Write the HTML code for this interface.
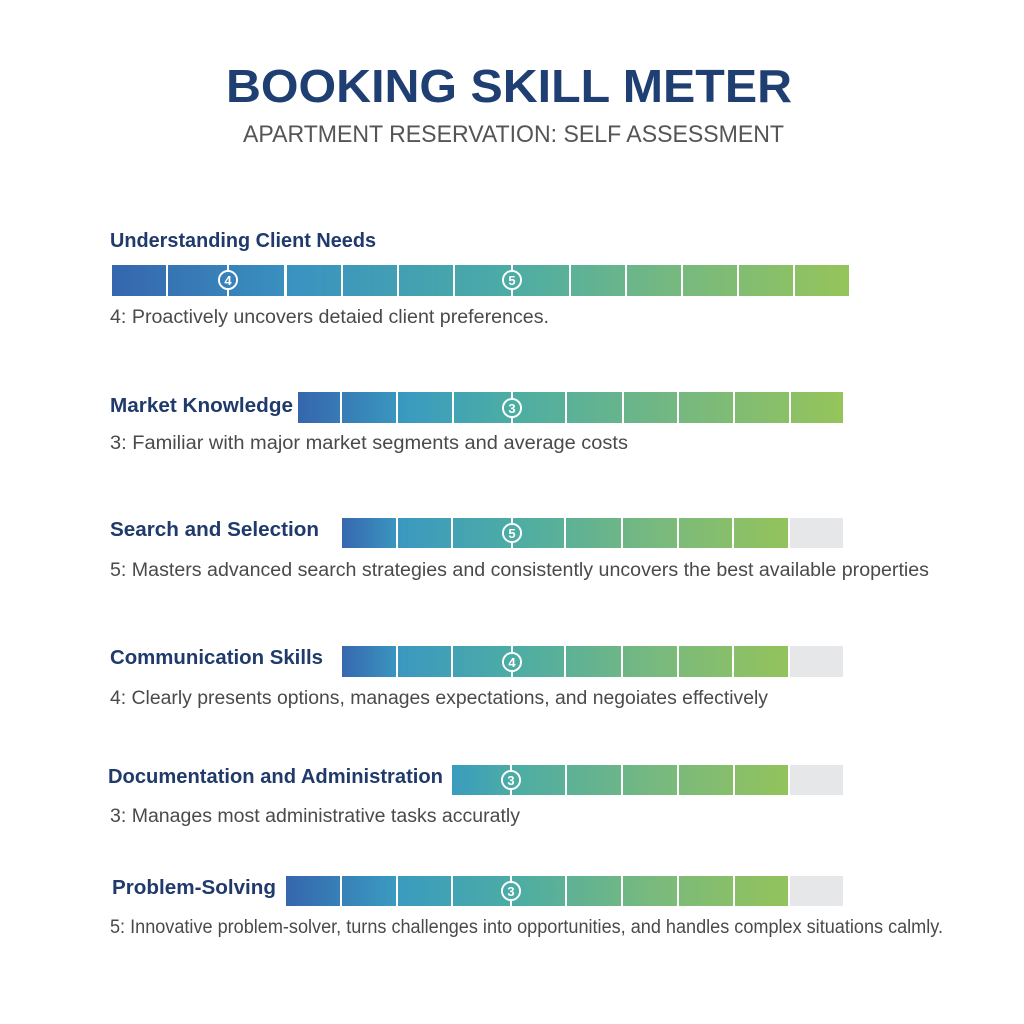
<!DOCTYPE html>
<html><head><meta charset="utf-8"><style>
html,body{margin:0;padding:0;background:#fff}
svg{display:block}
text{font-family:"Liberation Sans",Arial,sans-serif}
.t{font-weight:bold;fill:#1f3f73}
.l{font-weight:bold;fill:#1f3a6b;font-size:20px}
.d{fill:#4a4a4a;font-size:19px}
.m{fill:#fff;font-weight:bold;font-size:13px;text-anchor:middle}
</style></head><body>
<svg width="1024" height="1024" viewBox="0 0 1024 1024" xmlns="http://www.w3.org/2000/svg">
<defs>
<linearGradient id="g1" gradientUnits="userSpaceOnUse" x1="112" y1="0" x2="849" y2="0">
<stop offset="0" stop-color="#3566ae"/><stop offset="0.25" stop-color="#3a93c0"/><stop offset="0.54" stop-color="#4caca5"/><stop offset="0.75" stop-color="#74b882"/><stop offset="1" stop-color="#95c45a"/></linearGradient>
<linearGradient id="g2" gradientUnits="userSpaceOnUse" x1="298" y1="0" x2="843" y2="0">
<stop offset="0" stop-color="#3566ae"/><stop offset="0.2" stop-color="#3a9bc0"/><stop offset="0.39" stop-color="#4cada4"/><stop offset="0.7" stop-color="#76b880"/><stop offset="1" stop-color="#95c45a"/></linearGradient>
<linearGradient id="g3" gradientUnits="userSpaceOnUse" x1="342" y1="0" x2="790" y2="0">
<stop offset="0" stop-color="#3668b0"/><stop offset="0.13" stop-color="#3b98c0"/><stop offset="0.38" stop-color="#4caca5"/><stop offset="0.7" stop-color="#78b97e"/><stop offset="1" stop-color="#94c35b"/></linearGradient>
<linearGradient id="g5" gradientUnits="userSpaceOnUse" x1="452" y1="0" x2="790" y2="0">
<stop offset="0" stop-color="#3a9cbe"/><stop offset="0.18" stop-color="#4caca5"/><stop offset="0.6" stop-color="#76b880"/><stop offset="1" stop-color="#94c35b"/></linearGradient>
<linearGradient id="g6" gradientUnits="userSpaceOnUse" x1="286" y1="0" x2="790" y2="0">
<stop offset="0" stop-color="#3566ae"/><stop offset="0.22" stop-color="#3a9bc0"/><stop offset="0.45" stop-color="#4caca5"/><stop offset="0.72" stop-color="#78b97e"/><stop offset="1" stop-color="#94c35b"/></linearGradient>
</defs>

<text class="t" x="226" y="102" font-size="46" textLength="566" lengthAdjust="spacingAndGlyphs">BOOKING SKILL METER</text>
<text x="243" y="142" font-size="24" fill="#555" textLength="541" lengthAdjust="spacingAndGlyphs">APARTMENT RESERVATION: SELF ASSESSMENT</text>

<!-- Row 1 -->
<text class="l" x="110" y="247" textLength="266" lengthAdjust="spacingAndGlyphs">Understanding Client Needs</text>
<g fill="url(#g1)">
<rect x="112" y="265" width="54" height="31"/><rect x="168" y="265" width="116" height="31"/><rect x="287" y="265" width="54" height="31"/><rect x="343" y="265" width="54" height="31"/><rect x="399" y="265" width="54" height="31"/><rect x="455" y="265" width="114" height="31"/><rect x="571" y="265" width="54" height="31"/><rect x="627" y="265" width="54" height="31"/><rect x="683" y="265" width="54" height="31"/><rect x="739" y="265" width="54" height="31"/><rect x="795" y="265" width="54" height="31"/>
</g>
<g stroke="#fff" stroke-width="2" fill="none"><line x1="228" y1="265" x2="228" y2="296"/><circle cx="228" cy="280" r="9"/><line x1="512" y1="265" x2="512" y2="296"/><circle cx="512" cy="280" r="9"/></g>
<g fill="url(#g1)"><circle cx="228" cy="280" r="8"/><circle cx="512" cy="280" r="8"/></g>
<text class="m" x="228" y="285">4</text><text class="m" x="512" y="285">5</text>
<text class="d" x="110" y="323" textLength="439" lengthAdjust="spacingAndGlyphs">4: Proactively uncovers detaied client preferences.</text>

<!-- Row 2 -->
<text class="l" x="110" y="412" textLength="183" lengthAdjust="spacingAndGlyphs">Market Knowledge</text>
<g fill="url(#g2)">
<rect x="298" y="392" width="42" height="31"/><rect x="342" y="392" width="54" height="31"/><rect x="398" y="392" width="54" height="31"/><rect x="454" y="392" width="111" height="31"/><rect x="567" y="392" width="55" height="31"/><rect x="624" y="392" width="53" height="31"/><rect x="679" y="392" width="54" height="31"/><rect x="735" y="392" width="54" height="31"/><rect x="791" y="392" width="52" height="31"/>
</g>
<g stroke="#fff" stroke-width="2" fill="none"><line x1="512" y1="392" x2="512" y2="423"/><circle cx="512" cy="408" r="9"/></g>
<circle cx="512" cy="408" r="8" fill="url(#g2)"/><text class="m" x="512" y="413">3</text>
<text class="d" x="110" y="449" textLength="518" lengthAdjust="spacingAndGlyphs">3: Familiar with major market segments and average costs</text>

<!-- Row 3 -->
<text class="l" x="110" y="536" textLength="209" lengthAdjust="spacingAndGlyphs">Search and Selection</text>
<g fill="url(#g3)">
<rect x="342" y="518" width="54" height="30"/><rect x="398" y="518" width="53" height="30"/><rect x="453" y="518" width="111" height="30"/><rect x="566" y="518" width="55" height="30"/><rect x="623" y="518" width="54" height="30"/><rect x="679" y="518" width="53" height="30"/><rect x="734" y="518" width="54" height="30"/>
</g>
<rect x="790" y="518" width="53" height="30" fill="#e6e7e9"/>
<g stroke="#fff" stroke-width="2" fill="none"><line x1="512" y1="518" x2="512" y2="548"/><circle cx="512" cy="533" r="9"/></g>
<circle cx="512" cy="533" r="8" fill="url(#g3)"/><text class="m" x="512" y="538">5</text>
<text class="d" x="110" y="576" textLength="819" lengthAdjust="spacingAndGlyphs">5: Masters advanced search strategies and consistently uncovers the best available properties</text>

<!-- Row 4 -->
<text class="l" x="110" y="664" textLength="213" lengthAdjust="spacingAndGlyphs">Communication Skills</text>
<g fill="url(#g3)">
<rect x="342" y="646" width="54" height="31"/><rect x="398" y="646" width="53" height="31"/><rect x="453" y="646" width="111" height="31"/><rect x="566" y="646" width="55" height="31"/><rect x="623" y="646" width="54" height="31"/><rect x="679" y="646" width="53" height="31"/><rect x="734" y="646" width="54" height="31"/>
</g>
<rect x="790" y="646" width="53" height="31" fill="#e6e7e9"/>
<g stroke="#fff" stroke-width="2" fill="none"><line x1="512" y1="646" x2="512" y2="677"/><circle cx="512" cy="662" r="9"/></g>
<circle cx="512" cy="662" r="8" fill="url(#g3)"/><text class="m" x="512" y="667">4</text>
<text class="d" x="110" y="704" textLength="658" lengthAdjust="spacingAndGlyphs">4: Clearly presents options, manages expectations, and negoiates effectively</text>

<!-- Row 5 -->
<text class="l" x="108" y="783" textLength="335" lengthAdjust="spacingAndGlyphs">Documentation and Administration</text>
<g fill="url(#g5)">
<rect x="452" y="765" width="113" height="30"/><rect x="567" y="765" width="54" height="30"/><rect x="623" y="765" width="54" height="30"/><rect x="679" y="765" width="54" height="30"/><rect x="735" y="765" width="53" height="30"/>
</g>
<rect x="790" y="765" width="53" height="30" fill="#e6e7e9"/>
<g stroke="#fff" stroke-width="2" fill="none"><line x1="511" y1="765" x2="511" y2="795"/><circle cx="511" cy="780" r="9"/></g>
<circle cx="511" cy="780" r="8" fill="url(#g5)"/><text class="m" x="511" y="785">3</text>
<text class="d" x="110" y="822" textLength="410" lengthAdjust="spacingAndGlyphs">3: Manages most administrative tasks accuratly</text>

<!-- Row 6 -->
<text class="l" x="112" y="894" textLength="164" lengthAdjust="spacingAndGlyphs">Problem-Solving</text>
<g fill="url(#g6)">
<rect x="286" y="876" width="54" height="30"/><rect x="342" y="876" width="54" height="30"/><rect x="398" y="876" width="53" height="30"/><rect x="453" y="876" width="112" height="30"/><rect x="567" y="876" width="54" height="30"/><rect x="623" y="876" width="54" height="30"/><rect x="679" y="876" width="54" height="30"/><rect x="735" y="876" width="53" height="30"/>
</g>
<rect x="790" y="876" width="53" height="30" fill="#e6e7e9"/>
<g stroke="#fff" stroke-width="2" fill="none"><line x1="511" y1="876" x2="511" y2="906"/><circle cx="511" cy="891" r="9"/></g>
<circle cx="511" cy="891" r="8" fill="url(#g6)"/><text class="m" x="511" y="896">3</text>
<text class="d" x="110" y="933" textLength="833" lengthAdjust="spacingAndGlyphs">5: Innovative problem-solver, turns challenges into opportunities, and handles complex situations calmly.</text>
</svg>
</body></html>
